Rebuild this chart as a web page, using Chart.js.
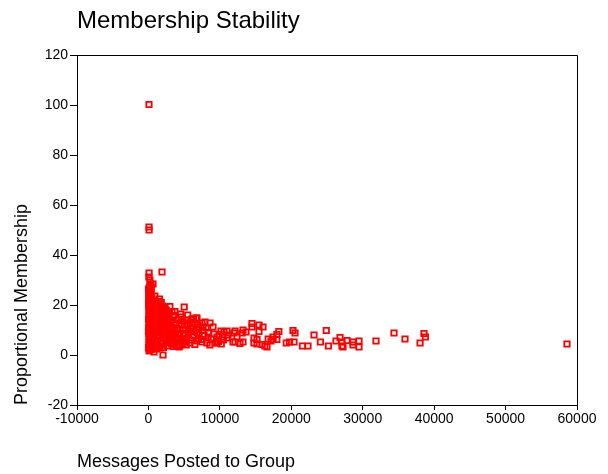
<!DOCTYPE html>
<html>
<head>
<meta charset="utf-8">
<script src="https://cdn.jsdelivr.net/npm/chart.js@4/dist/chart.umd.min.js"></script>
<style>
html,body{margin:0;padding:0;background:#fff;}
#wrap{width:608px;height:474px;position:relative;}
</style>
</head>
<body>
<div id="wrap"><canvas id="c" width="608" height="474"></canvas></div>
<script>
const chartTitle = "Membership Stability";
const xTitle = "Messages Posted to Group";
const yTitle = "Proportional Membership";
const xTickRange = [-10000, 60000, 10000];
const yTickRange = [-20, 120, 20];

// Messages posted (x) and proportional membership (y)
const msgs = [
  80, 80, 100, 1900, 90, 60, 200, 350, 640, 220, 200, 100, 200,
  40, 120, 260, 80, 380, 180, 30, 300, 150, 450, 60, 240, 520, 100, 340, 20, 200, 420, 70, 280, 560, 130, 360, 10, 220, 480, 90, 320, 160, 400, 50, 260, 140, 380, 200, 300, 100, 460, 500, 20, 250, 350, 60, 440, 110, 330, 480, 30, 410, 170, 520, 10,
  150, 350, 250, 450, 50, 300, 200, 400, 100, 500, 250, 150, 350, 50, 450, 300, 200, 400, 100, 550,
  700, 900, 1200, 650, 1500, 1000, 800, 1800, 1300, 700, 2100, 1100, 1600, 900, 2000, 1400, 750, 1900, 1200, 2200, 1000, 1700, 800, 1500, 2100, 1100, 650, 1300, 2200, 600, 1700, 1000, 2300, 850, 1800, 1400, 600, 1900,
  300, 700, 1100, 1500, 1900, 2300, 2700, 3100,
  500, 900, 1300, 1700, 2100, 2500, 2900, 3300, 3700, 4100,
  600, 1000, 1400, 1800, 2200, 2600, 3000, 3400, 3800, 4200, 4600, 5000,
  800, 1200, 1600, 2000, 2400, 2800, 3200, 3600, 4000, 4400,
  450, 850, 1250, 1650, 2050, 2450,
  350, 750, 1150, 1550, 1950,
  5400, 5900, 6400, 4800, 3300, 2100, 1500, 900, 400,
  2500, 2900, 3500, 2700, 4200, 3100, 3800, 2400, 4600, 3300, 4000, 2600, 4900, 3600, 2900, 4400, 3200, 3900, 2500, 4700, 3000, 4200, 2700, 3500, 4800, 2400, 4500, 3000, 3700, 5000, 2800, 4300,
  5300, 5800, 6500, 5500, 6200, 7000, 5200, 6000, 6800, 5600, 6400, 7100, 5400, 6000, 6700, 5800, 6500, 5200, 7000, 6300, 5500, 6900,
  7600, 8400, 9200, 7800, 8800, 9900, 10500, 7400, 8600, 9800, 11000, 10200,
  5010, 1340, 2320, 3300, 2180, 2600, 4560, 6100, 6800, 7500, 7920, 8620, 8060, 9040, 6800, 7640, 10160, 11000, 11140, 10580, 12120, 11980, 13100, 13240, 13660, 13240, 12400, 10440, 9600, 8340, 8200, 7500, 9320, 9600, 11840, 12120, 12820,
  5290, 4280, 3720, 3160, 2040, 780, 6100, 6660,
  14500, 14500, 15480, 16040, 15480, 14780, 15200, 14780, 15200, 15900, 16300, 16600, 16760, 17160, 17440, 17440, 17980, 18260, 17980, 19300, 19750, 20240, 20520, 20380, 21560, 22340, 23180, 24080, 24900, 25200, 26260, 26820, 27100, 27100, 27240, 27800, 28640, 28640, 29480, 29480, 31860, 34380, 35920, 38030, 38580, 38780, 58600
];
const membership = [
  100.2, 51.2, 50.0, 33.2, 32.8, 31.2, 30.0, 28.4, 28.4, 27.6, 26.4, 25.2, 24.0,
  24, 23.2, 22.4, 21.6, 21, 20.4, 19.8, 19, 18.4, 17.8, 17.2, 16.6, 16, 15.4, 14.8, 14.2, 13.6, 13, 12.4, 11.8, 11.2, 10.6, 10, 9.4, 8.8, 8.2, 7.6, 7, 6.4, 5.8, 5.2, 4.6, 4, 3.4, 2.8, 2.2, 1.6, 22.8, 20, 26.4, 25.6, 24.6, 22, 19.4, 18, 15.6, 12.2, 11, 9, 5, 6, 3,
  27, 25, 23.8, 21.2, 20.8, 18.6, 17.4, 16.2, 14.6, 13.4, 12, 10.8, 9.6, 8.4, 7.2, 6, 4.8, 3.6, 2.4, 9,
  22, 20.6, 19, 18.2, 17.6, 16.4, 15.2, 15.8, 14.4, 13.2, 13.8, 12.4, 11.6, 10.8, 10.2, 9.4, 8.6, 8, 7.2, 6.6, 5.8, 5.2, 4.2, 3.6, 3, 2.4, 6.2, 20.2, 18.4, 11.8, 13, 9.8, 11, 3, 21, 16.2, 2.4, 4.4,
  21.5, 20, 18.8, 17, 16.8, 15, 13.6, 12.6,
  17.8, 16.6, 15.8, 14.6, 13.4, 12.8, 11.8, 10.2, 9.8, 8.8,
  12.8, 12.2, 11.2, 10.6, 9.6, 8.6, 7.8, 8.2, 7.4, 6.4, 5.4, 5.2,
  9.2, 8.8, 7.6, 6.8, 6.4, 5.4, 4.4, 4.2, 3.8, 3.6,
  4.4, 3.8, 3.2, 2.8, 4.8, 5.8,
  6.8, 10.2, 14, 22.4, 19.6,
  12.4, 10.4, 9.6, 13.6, 14, 16.2, 21.4, 23.6, 27,
  18, 16.6, 15.8, 14.4, 14.2, 13.2, 12.8, 12, 12.4, 11, 10.6, 9.8, 10, 9, 8.2, 8, 7, 6.6, 6, 6.2, 5, 4.2, 3.6, 3.4, 4.6, 15.4, 16.4, 19.4, 17.4, 8.6, 11.6, 12,
  14, 13, 12.6, 11.6, 11, 10.6, 10, 9.4, 9, 8.2, 7.6, 8, 6.8, 6, 5.6, 4.8, 4.2, 5.4, 6.6, 14.4, 16, 12,
  9.8, 9, 8.4, 7.8, 6.4, 8.2, 6, 6.2, 4, 5.4, 6.8, 4.4,
  19.2, 19.2, 19.2, 17.2, 17.2, 17.2, 15.2, 14.4, 14.8, 12.8, 13.2, 12.8, 10.8, 11.2, 11.2, 11.2, 9.6, 9.6, 8, 9.2, 9.6, 8.8, 8.8, 10, 9.2, 5.2, 7.2, 7.2, 7.2, 7.2, 4.8, 5.2, 4.8, 4.8, 5.2, 5.2, 4.6,
  4, 3.2, 4.8, 4.8, 0, 1.2, 14, 14.8,
  12.6, 11.2, 12, 11.2, 9.4, 6.8, 6.2, 4.8, 4.4, 4.2, 3.6, 3.2, 6.4, 5.6, 7.2, 6.2, 8.2, 9.4, 6.2, 4.8, 5.2, 9.8, 8.8, 5.2, 3.6, 3.6, 8, 5.2, 9.8, 3.6, 5.6, 7, 5.2, 3.6, 3.2, 5.8, 5.2, 4, 5.6, 3.2, 5.6, 8.8, 6.4, 4.8, 8.6, 7.2, 4.4
];

const points = msgs.map((x, i) => ({ x: x, y: membership[i] }));

const framePlugin = {
  id: 'frame',
  afterDraw(chart) {
    const { ctx, chartArea: a } = chart;
    ctx.save();
    ctx.strokeStyle = '#000';
    ctx.lineWidth = 1;
    ctx.beginPath();
    ctx.moveTo(a.left + 0.5, a.top + 0.5);
    ctx.lineTo(a.right + 0.5, a.top + 0.5);
    ctx.lineTo(a.right + 0.5, a.bottom + 0.5);
    ctx.stroke();
    ctx.fillStyle = '#000';
    ctx.font = '24px "Liberation Sans", Arial, sans-serif';
    ctx.textBaseline = 'middle';
    ctx.textAlign = 'left';
    ctx.fillText(chartTitle, a.left, 21);
    ctx.restore();
  }
};

new Chart(document.getElementById('c'), {
  type: 'scatter',
  data: {
    datasets: [{
      data: points,
      pointStyle: 'rect',
      pointRadius: 3.8,
      pointHoverRadius: 3.8,
      borderColor: '#ff0000',
      backgroundColor: 'rgba(255,255,255,0)',
      pointBorderWidth: 1.8
    }]
  },
  plugins: [framePlugin],
  options: {
    responsive: false,
    animation: false,
    events: [],
    layout: { padding: { top: 55, right: 31, left: 0, bottom: 0 } },
    plugins: { legend: { display: false }, tooltip: { enabled: false } },
    scales: {
      x: {
        type: 'linear',
        min: xTickRange[0], max: xTickRange[1],
        afterFit(s) { s.height = 69; },
        ticks: { stepSize: xTickRange[2], color: '#000', padding: 1, maxRotation: 0,
          font: { family: '"Liberation Sans", Arial, sans-serif', size: 14 },
          callback: v => String(v) },
        grid: { drawOnChartArea: false, tickLength: 5, color: '#000' },
        border: { display: true, color: '#000', width: 1 },
        title: { display: true, text: xTitle, align: 'start', color: '#000',
          font: { family: '"Liberation Sans", Arial, sans-serif', size: 18 },
          padding: { top: 0, bottom: 1 } }
      },
      y: {
        type: 'linear',
        min: yTickRange[0], max: yTickRange[1],
        afterFit(s) { s.width = 77; },
        ticks: { stepSize: yTickRange[2], color: '#000', padding: 2,
          font: { family: '"Liberation Sans", Arial, sans-serif', size: 14 },
          callback: v => String(v) },
        grid: { drawOnChartArea: false, tickLength: 7, color: '#000' },
        border: { display: true, color: '#000', width: 1 },
        title: { display: true, text: yTitle, align: 'start', color: '#000',
          font: { family: '"Liberation Sans", Arial, sans-serif', size: 18 },
          padding: { top: 11, bottom: 0 } }
      }
    }
  }
});
</script>
</body>
</html>
